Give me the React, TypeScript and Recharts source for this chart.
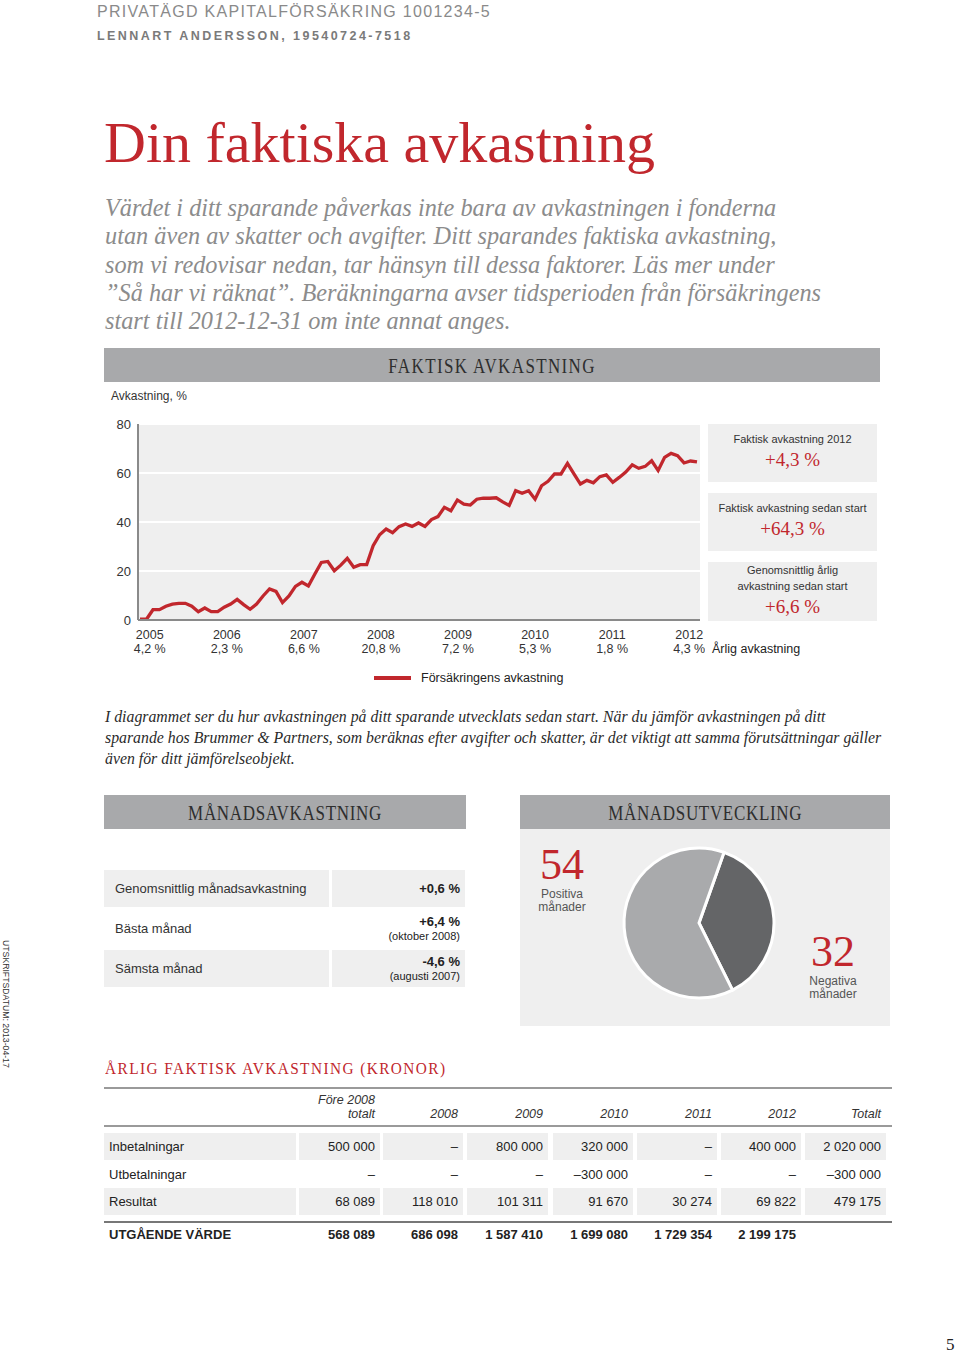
import React from 'react';
import { LineChart, Line, XAxis, YAxis, CartesianGrid, PieChart, Pie, Cell } from 'recharts';

// Försäkringens avkastning, % sedan start (månadsvärden)
const returnSeries = [
  0.3, 0.3, 4.2, 4.2, 5.6, 6.5, 6.8, 6.8, 5.6, 3.4, 4.9, 3.4, 3.4, 5.2, 6.5, 8.4, 6.3, 4.4,
  6.5, 9.8, 12.7, 11.7, 7.1, 9.8, 13.7, 15.4, 13.9, 18.8, 23.5, 23.9, 20.1, 22.4, 25.2, 21.5,
  22.6, 22.6, 30.3, 34.8, 37.1, 35.6, 38.1, 39.2, 38.2, 39.6, 38.2, 41.0, 42.2, 46.0, 44.6,
  49.0, 47.3, 46.9, 49.3, 49.7, 49.7, 49.9, 48.2, 46.8, 52.8, 51.7, 52.8, 49.3, 54.8, 56.6,
  59.6, 59.6, 63.9, 59.6, 55.5, 57.0, 56.0, 58.5, 59.2, 56.2, 58.2, 60.4, 63.3, 61.9, 62.7,
  65.0, 61.0, 66.4, 68.0, 67.1, 64.1, 64.9, 64.5,
];
const years = ['2005', '2006', '2007', '2008', '2009', '2010', '2011', '2012'];
const annualReturns = ['4,2 %', '2,3 %', '6,6 %', '20,8 %', '7,2 %', '5,3 %', '1,8 %', '4,3 %'];
const yTicks = [0, 20, 40, 60, 80];

const pieLabels = ['Negativa månader', 'Positiva månader'];
const pieValues = [32, 54];
const pieColors = ['#646567', '#a9aaac'];

const monthLabels = ['Genomsnittlig månadsavkastning', 'Bästa månad', 'Sämsta månad'];
const monthValues = ['+0,6 %', '+6,4 %', '-4,6 %'];
const monthNotes = ['', '(oktober 2008)', '(augusti 2007)'];

const tableCols = ['2008', '2009', '2010', '2011', '2012', 'Totalt'];
const inbetalningar = ['500 000', '–', '800 000', '320 000', '–', '400 000', '2 020 000'];
const utbetalningar = ['–', '–', '–', '–300 000', '–', '–', '–300 000'];
const resultat = ['68 089', '118 010', '101 311', '91 670', '30 274', '69 822', '479 175'];
const utgaende = ['568 089', '686 098', '1 587 410', '1 699 080', '1 729 354', '2 199 175', ''];

const RED = '#c1272d';
const SANS = '"Liberation Sans", Arial, sans-serif';
const SERIF = '"Liberation Serif", "Times New Roman", serif';
const BAND = '#a8a9ab';
const PANEL = '#efefef';

const lineData = returnSeries.map((v, i) => ({ i, v }));
const tickPos = years.map((_, k) => 1.5 + k * 11.9);

function YearTick(props: any) {
  const { x, y, index } = props;
  return (
    <g>
      <text x={x} y={y + 19} textAnchor="middle" fontSize={12.5} fill="#333" fontFamily={SANS}>
        {years[index]}
      </text>
      <text x={x} y={y + 33} textAnchor="middle" fontSize={12.5} fill="#333" fontFamily={SANS}>
        {annualReturns[index]}
      </text>
    </g>
  );
}

const abs = (left: number, top: number, extra: React.CSSProperties = {}): React.CSSProperties => ({
  position: 'absolute',
  left,
  top,
  ...extra,
});

function Band({ left, top, width, label, spacing }: { left: number; top: number; width: number; label: string; spacing: number }) {
  return (
    <div
      style={abs(left, top, {
        width,
        height: 34,
        background: BAND,
        color: '#2e2e2e',
        fontFamily: SERIF,
        lineHeight: '36px',
        textAlign: 'center',
      })}
    >
      <span style={{ display: 'inline-block', fontSize: 20, letterSpacing: spacing, transform: 'scaleX(0.85)' }}>{label}</span>
    </div>
  );
}

function StatBox({ top, height, lines, value, pad }: { top: number; height: number; lines: string[]; value: string; pad: number }) {
  return (
    <div
      style={abs(708, top, {
        width: 169,
        height,
        background: PANEL,
        textAlign: 'center',
        fontFamily: SANS,
        color: '#333',
      })}
    >
      <div style={{ paddingTop: pad, fontSize: 11, lineHeight: '16px' }}>
        {lines.map((l) => (
          <div key={l}>{l}</div>
        ))}
      </div>
      <div style={{ fontFamily: SERIF, fontSize: 19, color: RED, lineHeight: '22px', marginTop: 2 }}>{value}</div>
    </div>
  );
}

const colCells = [
  [299, 380],
  [383, 463],
  [467, 548],
  [553, 633],
  [637, 717],
  [721, 801],
  [805, 886],
];

function TableRow({ top, label, values, shaded, bold }: { top: number; label: string; values: string[]; shaded?: boolean; bold?: boolean }) {
  const common: React.CSSProperties = {
    height: 27,
    lineHeight: '27px',
    fontFamily: SANS,
    fontSize: 13,
    color: '#222',
    fontWeight: bold ? 700 : 400,
    background: shaded ? PANEL : 'transparent',
  };
  return (
    <>
      <div style={abs(104, top, { ...common, width: 187, paddingLeft: 5 })}>{label}</div>
      {colCells.map(([l, r], k) => (
        <div key={k} style={abs(l, top, { ...common, width: r - l - 5, paddingRight: 5, textAlign: 'right' })}>
          {values[k]}
        </div>
      ))}
    </>
  );
}

export default function App() {
  return (
    <div style={abs(0, 0, { width: 960, height: 1356, background: '#fff', overflow: 'hidden' })}>
      <div style={abs(97, 3, { fontFamily: SANS, fontSize: 16, letterSpacing: 1.3, color: '#8a8a8a', lineHeight: '18px' })}>
        PRIVATÄGD KAPITALFÖRSÄKRING 1001234-5
      </div>
      <div
        style={abs(97, 29, {
          fontFamily: SANS,
          fontSize: 12.5,
          fontWeight: 700,
          letterSpacing: 2.45,
          color: '#7a7a7a',
          lineHeight: '14px',
        })}
      >
        LENNART ANDERSSON, 19540724-7518
      </div>

      <div style={abs(104, 108, { fontFamily: SERIF, fontSize: 58, color: RED, lineHeight: '70px' })}>
        Din faktiska avkastning
      </div>

      <div
        style={abs(105, 194, {
          fontFamily: SERIF,
          fontStyle: 'italic',
          fontSize: 24.3,
          color: '#8c8c8c',
          lineHeight: '28.3px',
        })}
      >
        Värdet i ditt sparande påverkas inte bara av avkastningen i fonderna
        <br />
        utan även av skatter och avgifter. Ditt sparandes faktiska avkastning,
        <br />
        som vi redovisar nedan, tar hänsyn till dessa faktorer. Läs mer under
        <br />
        ”Så har vi räknat”. Beräkningarna avser tidsperioden från försäkringens
        <br />
        start till 2012-12-31 om inte annat anges.
      </div>

      <Band left={104} top={348} width={776} label="FAKTISK AVKASTNING" spacing={1.6} />

      <div style={abs(111, 389, { fontFamily: SANS, fontSize: 12, color: '#333', lineHeight: '14px' })}>Avkastning, %</div>

      <div style={abs(100, 410)}>
        <LineChart width={605} height={260} data={lineData} margin={{ top: 14, right: 5, left: 0, bottom: 10 }}>
          <CartesianGrid vertical={false} fill={PANEL} stroke="#fff" strokeWidth={2} />
          <XAxis
            type="number"
            dataKey="i"
            domain={[0, returnSeries.length - 1]}
            ticks={tickPos}
            interval={0}
            tick={<YearTick />}
            tickLine={false}
            tickSize={0}
            tickMargin={0}
            height={40}
            stroke="#8a8a8a"
            strokeWidth={2}
            padding={{ left: 2, right: 3 }}
          />
          <YAxis
            domain={[0, 80]}
            ticks={yTicks}
            width={38}
            tickLine={false}
            tickSize={0}
            tickMargin={7}
            stroke="#8a8a8a"
            strokeWidth={2}
            tick={{ fill: '#333', fontSize: 13, fontFamily: SANS }}
          />
          <Line
            type="linear"
            dataKey="v"
            stroke={RED}
            strokeWidth={3.3}
            dot={false}
            activeDot={false}
            isAnimationActive={false}
          />
        </LineChart>
      </div>

      <StatBox top={424} height={58} lines={['Faktisk avkastning 2012']} value="+4,3 %" pad={7} />
      <StatBox top={493} height={58} lines={['Faktisk avkastning sedan start']} value="+64,3 %" pad={7} />
      <StatBox top={562} height={59} lines={['Genomsnittlig årlig', 'avkastning sedan start']} value="+6,6 %" pad={0} />

      <div style={abs(712, 642, { fontFamily: SANS, fontSize: 12.5, color: '#222', lineHeight: '14px' })}>Årlig avkastning</div>

      <div style={abs(374, 676, { width: 37, height: 4, background: RED })} />
      <div style={abs(421, 671, { fontFamily: SANS, fontSize: 12.5, color: '#222', lineHeight: '14px' })}>
        Försäkringens avkastning
      </div>

      <div
        style={abs(105, 706, {
          fontFamily: SERIF,
          fontStyle: 'italic',
          fontSize: 15.8,
          color: '#2a2a2a',
          lineHeight: '21px',
        })}
      >
        I diagrammet ser du hur avkastningen på ditt sparande utvecklats sedan start. När du jämför avkastningen på ditt
        <br />
        sparande hos Brummer &amp; Partners, som beräknas efter avgifter och skatter, är det viktigt att samma förutsättningar gäller
        <br />
        även för ditt jämförelseobjekt.
      </div>

      <Band left={104} top={795} width={362} label="MÅNADSAVKASTNING" spacing={0.8} />
      <Band left={520} top={795} width={370} label="MÅNADSUTVECKLING" spacing={0.8} />

      {monthLabels.map((label, k) => {
        const top = 870 + k * 40;
        const shaded = k !== 1;
        return (
          <React.Fragment key={label}>
            <div
              style={abs(104, top, {
                width: 214,
                paddingLeft: 11,
                height: 37,
                lineHeight: '37px',
                background: shaded ? PANEL : 'transparent',
                fontFamily: SANS,
                fontSize: 13,
                color: '#333',
              })}
            >
              {label}
            </div>
            <div
              style={abs(332, top, {
                width: 128,
                paddingRight: 5,
                height: 37,
                background: shaded ? PANEL : 'transparent',
                fontFamily: SANS,
                textAlign: 'right',
                color: '#222',
              })}
            >
              {monthNotes[k] ? (
                <div style={{ paddingTop: 4 }}>
                  <div style={{ fontSize: 13, fontWeight: 700, lineHeight: '15px' }}>{monthValues[k]}</div>
                  <div style={{ fontSize: 11, lineHeight: '15px' }}>{monthNotes[k]}</div>
                </div>
              ) : (
                <div style={{ fontSize: 13, fontWeight: 700, lineHeight: '37px' }}>{monthValues[k]}</div>
              )}
            </div>
          </React.Fragment>
        );
      })}

      <div style={abs(520, 829, { width: 370, height: 197, background: PANEL })} />
      <div style={abs(619, 843)}>
        <PieChart width={160} height={160} margin={{ top: 0, right: 0, bottom: 0, left: 0 }}>
          <Pie
            data={pieValues.map((value, k) => ({ name: pieLabels[k], value }))}
            dataKey="value"
            cx={80}
            cy={80}
            outerRadius={75}
            startAngle={70.5}
            endAngle={-289.5}
            stroke="#fff"
            strokeWidth={3}
            isAnimationActive={false}
          >
            {pieValues.map((_, k) => (
              <Cell key={k} fill={pieColors[k]} />
            ))}
          </Pie>
        </PieChart>
      </div>
      <div style={abs(530, 842, { width: 64, textAlign: 'center' })}>
        <div style={{ fontFamily: SERIF, fontSize: 44, color: RED, lineHeight: '46px' }}>{pieValues[1]}</div>
        <div style={{ fontFamily: SANS, fontSize: 12, color: '#555', lineHeight: '13px' }}>
          Positiva
          <br />
          månader
        </div>
      </div>
      <div style={abs(801, 929, { width: 64, textAlign: 'center' })}>
        <div style={{ fontFamily: SERIF, fontSize: 44, color: RED, lineHeight: '46px' }}>{pieValues[0]}</div>
        <div style={{ fontFamily: SANS, fontSize: 12, color: '#555', lineHeight: '13px' }}>
          Negativa
          <br />
          månader
        </div>
      </div>

      <div
        style={abs(105, 1060, {
          fontFamily: SERIF,
          fontSize: 17,
          letterSpacing: 1.6,
          color: RED,
          lineHeight: '18px',
          transform: 'scaleX(0.9)',
          transformOrigin: 'left center',
          whiteSpace: 'nowrap',
        })}
      >
        ÅRLIG FAKTISK AVKASTNING (KRONOR)
      </div>

      <div style={abs(104, 1087, { width: 788, height: 1.5, background: '#9a9a9a' })} />
      <div
        style={abs(colCells[0][0], 1093, {
          width: colCells[0][1] - colCells[0][0] - 5,
          textAlign: 'right',
          fontFamily: SANS,
          fontStyle: 'italic',
          fontSize: 12.5,
          color: '#333',
          lineHeight: '14px',
        })}
      >
        Före 2008
        <br />
        totalt
      </div>
      {tableCols.map((c, k) => (
        <div
          key={c}
          style={abs(colCells[k + 1][0], 1107, {
            width: colCells[k + 1][1] - colCells[k + 1][0] - 5,
            textAlign: 'right',
            fontFamily: SANS,
            fontStyle: 'italic',
            fontSize: 12.5,
            color: '#333',
            lineHeight: '14px',
          })}
        >
          {c}
        </div>
      ))}
      <div style={abs(104, 1125, { width: 788, height: 1.5, background: '#9a9a9a' })} />

      <TableRow top={1133} label="Inbetalningar" values={inbetalningar} shaded />
      <TableRow top={1161} label="Utbetalningar" values={utbetalningar} />
      <TableRow top={1188} label="Resultat" values={resultat} shaded />
      <div style={abs(104, 1221, { width: 788, height: 1.5, background: '#777' })} />
      <TableRow top={1221} label="UTGÅENDE VÄRDE" values={utgaende} bold />

      <div
        style={abs(1, 940, {
          writingMode: 'vertical-rl',
          fontFamily: SANS,
          fontSize: 8.7,
          color: '#333',
          lineHeight: '10px',
        })}
      >
        UTSKRIFTSDATUM: 2013-04-17
      </div>

      <div style={abs(946, 1336, { width: 12, fontFamily: SERIF, fontSize: 17, color: '#222', lineHeight: '18px' })}>5</div>
    </div>
  );
}
